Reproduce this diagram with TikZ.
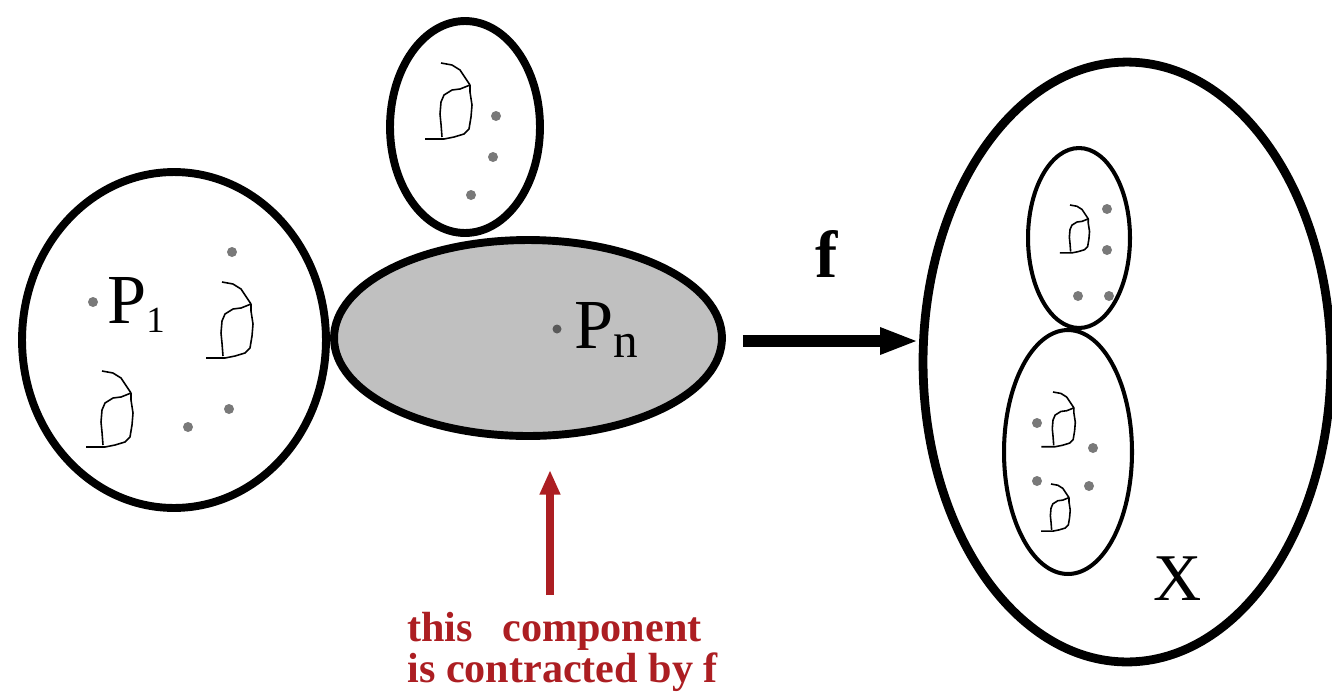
\documentclass[tikz,border=0pt]{standalone}
\usepackage{fontspec}
\setmainfont{Liberation Serif}
\usetikzlibrary{arrows.meta,shapes.geometric}
\definecolor{contrred}{RGB}{172,30,34}
\definecolor{compgray}{RGB}{192,192,192}

\begin{document}
\begin{tikzpicture}[x=0.02cm, y=-0.02cm,
	ring/.style={draw, ellipse, inner sep=0pt, line width=4.5pt},
	thinring/.style={draw, ellipse, inner sep=0pt, line width=2.3pt},
	blob/.style={fill=gray!95!black},
	fmap/.style={line width=7pt, -{Triangle[length=22pt,width=14pt]}},
	contr/.style={contrred, line width=4pt, -{Triangle[length=14pt,width=11pt]}},
	hook/.pic={
		\draw[line width=0.9pt, line join=round] (0,0) -- (11,2) -- (19,7) -- (25,16) -- (29,22) -- (19,26) -- (11,27) -- (3,32) -- (0,39) -- (-1,51) -- (0,61) -- (1,74);
		\draw[line width=0.9pt, line join=round] (-16,76) -- (3,76) -- (13,74) -- (23,71) -- (28,66) -- (30,54) -- (31,42) -- (29,29) -- (29,22);
	}]
	\useasboundingbox (0,0) rectangle (1332,697);

	\node[ring, minimum width=6.08cm, minimum height=6.72cm] (left) at (174,340) {};
	\node[ring, minimum width=3.0cm, minimum height=4.24cm] (top) at (465,127) {};
	\node[ring, fill=compgray, minimum width=7.76cm, minimum height=3.92cm] (comp) at (528,338) {};
	\node[ring, line width=5pt, minimum width=8.16cm, minimum height=12.0cm] (space) at (1127,362) {};
	\node[thinring, minimum width=2.04cm, minimum height=3.6cm] (upper) at (1079,238) {};
	\node[thinring, minimum width=2.56cm, minimum height=4.88cm] (lower) at (1068,452) {};

	\foreach \p in {(93,302),(232,252),(229,409),(188,427),(496,116),(493,157),(471,195),(1107,209),(1107,250),(1078,296),(1109,296),(1037,423),(1093,448),(1037,481),(1089,486)}
		\fill[blob] \p circle (0.1cm);
	\fill[gray!70!black] (557,329) circle (0.09cm);

	\pic at (222,282) {hook};
	\pic at (102,371) {hook};
	\pic at (441,63) {hook};
	\pic[scale=0.63] at (1070,205) {hook};
	\pic[scale=0.72] at (1053,392) {hook};
	\pic[scale=0.62] at (1051,484) {hook};

	\node[anchor=base west, inner sep=0pt] (p1) at (107,323) {\fontsize{40}{40}\selectfont P\raisebox{-0.18cm}{\fontsize{21}{21}\selectfont 1}};
	\node[anchor=base west, inner sep=0pt] (pn) at (574,348) {\fontsize{40}{40}\selectfont P\raisebox{-0.18cm}{\fontsize{28}{28}\selectfont n}};
	\node[anchor=base west, inner sep=0pt] (xlab) at (1153,600) {\fontsize{38}{38}\selectfont X};
	\node[anchor=base west, inner sep=0pt] (flab) at (815,277) {\fontsize{38}{38}\selectfont\bfseries f};

	\draw[fmap] ([xshift=0.34cm, yshift=-0.06cm]comp.east) -- ([yshift=-0.06cm]comp.east -| space.west);

	\node[anchor=base west, inner sep=0pt, align=left, text=contrred, font=\bfseries\fontsize{24}{20}\selectfont] (note) at (407,682) {this\hspace{0.45em} component\\is contracted by f};
	\coordinate (tip) at (550,470);
	\draw[contr] (tip |- 0,595) -- (tip);
\end{tikzpicture}
\end{document}
